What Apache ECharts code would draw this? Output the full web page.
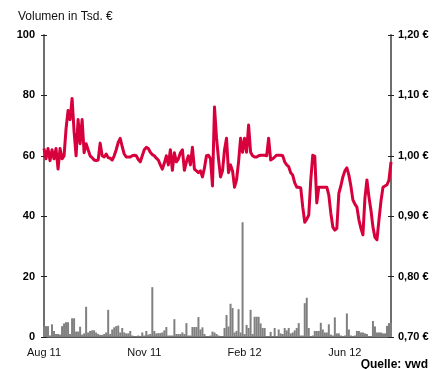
<!DOCTYPE html>
<html>
<head>
<meta charset="utf-8">
<script src="https://cdn.jsdelivr.net/npm/echarts@6/dist/echarts.min.js"></script>
<style>
html,body{margin:0;padding:0;background:#fff;}
#c{width:437px;height:369px;}
</style>
</head>
<body>
<div id="c"></div>
<script>
// Tick labels on the time axis and their positions (trading-day index)
const tickLabels = ['Aug 11', 'Nov 11', 'Feb 12', 'Jun 12'];
const tickIndex = [0, 50, 100, 150];

// Share price in EUR (right axis)
const price = [
1.012,0.995,1.012,0.992,1.010,0.995,1.012,0.978,1.012,0.995,
1.000,1.045,1.075,1.060,1.095,1.040,1.000,1.060,1.020,1.060,
1.005,1.020,1.010,1.000,0.997,0.993,0.992,0.993,1.021,1.000,
0.998,1.003,0.997,0.996,0.993,1.000,1.010,1.022,1.029,1.015,
1.003,0.998,0.998,0.998,1.000,1.001,1.000,0.994,0.990,1.000,
1.010,1.014,1.012,1.006,1.002,1.000,0.996,0.993,0.985,0.978,
0.988,1.000,0.985,1.010,0.976,1.005,0.990,0.995,1.005,1.010,
0.976,0.990,1.000,0.985,1.014,0.978,0.975,0.972,0.975,0.965,
0.980,1.000,1.001,0.995,0.950,1.081,1.030,0.995,0.965,0.975,
1.010,1.029,0.972,0.985,0.975,0.948,0.960,0.990,1.029,1.006,
1.029,1.006,1.051,1.006,1.000,0.998,0.998,1.000,1.001,1.001,
1.001,1.000,1.029,0.993,0.995,0.998,1.001,1.001,1.001,1.000,
0.990,0.985,0.982,0.972,0.968,0.955,0.948,0.948,0.947,0.915,
0.890,0.895,0.902,0.960,1.001,0.999,0.922,0.948,0.948,0.948,
0.948,0.948,0.935,0.905,0.882,0.877,0.880,0.938,0.950,0.965,
0.975,0.980,0.968,0.950,0.927,0.920,0.915,0.894,0.880,0.869,
0.930,0.960,0.932,0.910,0.882,0.865,0.861,0.894,0.925,0.948,
0.950,0.952,0.960,0.990
];

// Trading volume in thousand EUR (left axis)
const volume = [
3.5,3.6,3.6,0.5,4.2,2.0,1.0,1.0,0.8,3.6,
4.5,4.9,4.9,1.0,6.2,6.2,1.8,1.8,3.4,0.8,
1.2,10,1.5,2.0,2.2,2.2,1.5,1.0,0.7,0.7,
1.0,1.5,9.0,1.0,2.5,3.2,3.6,3.8,1.5,3.0,
1.5,1.2,1.2,2.0,0.5,0.3,0.3,0.5,0.3,1.5,
0.5,2.0,0.8,1.0,16.5,2.0,1.2,1.3,1.3,1.5,
2.2,3.3,0.5,0.5,0.5,5.9,1.0,1.0,1.0,1.5,
1.0,4.6,0.5,0.5,3.3,3.3,3.3,6.6,2.5,3.2,
1.0,0.3,0.3,0.5,1.8,1.5,1.0,0.5,0.3,0.3,
3.0,7.3,3.5,11.0,9.6,1.5,2.0,9.2,1.5,38,
1.0,4.0,3.0,9.0,1.0,6.7,6.7,6.7,4.5,3.0,
3.0,0.3,0.3,1.7,0.3,3.0,0.3,2.5,1.2,1.0,
3.0,2.2,3.0,1.2,1.5,2.2,3.0,4.6,0.5,0.5,
11.2,13,3.0,0.3,0.5,2.0,2.0,2.0,4.7,2.5,
1.5,1.5,4.2,0.8,0.5,6.5,1.2,1.2,0.5,0.3,
0.5,7.8,2.5,0.5,0.3,0.5,2.0,2.0,1.5,1.5,
1.2,1.0,0.3,0.3,5.3,3.5,1.5,1.5,1.5,1.2,
1.2,3.7,4.6,4.6
];

const categories = price.map((_, i) => String(i));
const labelFont = 'Arial, "Liberation Sans", sans-serif';

const leftBase = {
  type: 'value', position: 'left', min: 0, max: 100, interval: 20,
  splitLine: { show: false }
};
const rightBase = {
  type: 'value', position: 'right', min: 0.7, max: 1.2, interval: 0.1,
  splitLine: { show: false }
};

const chart = echarts.init(document.getElementById('c'), null, { renderer: 'canvas' });
chart.setOption({
  animation: false,
  backgroundColor: '#ffffff',
  grid: { left: 44, right: 46, top: 35, bottom: 32 },
  title: [
    { text: 'Volumen in Tsd. €', left: 13, top: 6,
      textStyle: { fontSize: 12, fontWeight: 'normal', color: '#111', fontFamily: labelFont } },
    { text: 'Quelle: vwd', right: 4, top: 354,
      textStyle: { fontSize: 12, fontWeight: 'bold', color: '#000', fontFamily: labelFont } }
  ],
  xAxis: {
    type: 'category', data: categories, boundaryGap: false,
    axisLine: { lineStyle: { color: '#555', width: 2 } },
    axisTick: { show: false },
    axisLabel: {
      margin: 10, fontSize: 11, color: '#111', fontFamily: labelFont,
      interval: (idx) => tickIndex.indexOf(idx) >= 0,
      formatter: (v, idx) => { const k = tickIndex.indexOf(idx); return k >= 0 ? tickLabels[k] : ''; }
    },
    splitLine: { show: false }
  },
  yAxis: [
    Object.assign({}, leftBase, {
      axisLine: { show: true, lineStyle: { color: '#6e6e6e', width: 2 } },
      axisTick: { show: true, length: 3, lineStyle: { color: '#222', width: 1 } },
      axisLabel: { margin: 9, fontSize: 11, fontWeight: 'bold', color: '#000', fontFamily: labelFont }
    }),
    Object.assign({}, rightBase, {
      axisLine: { show: true, lineStyle: { color: '#6e6e6e', width: 2 } },
      axisTick: { show: true, length: 3, lineStyle: { color: '#222', width: 1 } },
      axisLabel: { margin: 7, fontSize: 11, fontWeight: 'bold', color: '#000', fontFamily: labelFont,
        formatter: (v) => v.toFixed(2).replace('.', ',') + ' €' }
    }),
    Object.assign({}, leftBase, {
      axisLine: { show: false },
      axisTick: { show: true, inside: true, length: 3, lineStyle: { color: '#222', width: 1 } },
      axisLabel: { show: false }
    }),
    Object.assign({}, rightBase, {
      axisLine: { show: false },
      axisTick: { show: true, inside: true, length: 3, lineStyle: { color: '#222', width: 1 } },
      axisLabel: { show: false }
    })
  ],
  series: [
    {
      type: 'bar', yAxisIndex: 0, data: volume, barWidth: 2,
      itemStyle: { color: '#808080' }, silent: true
    },
    {
      type: 'line', yAxisIndex: 1, data: price, symbol: 'none',
      lineStyle: { color: '#d8003c', width: 3, join: 'round' }, silent: true
    }
  ]
});
</script>
</body>
</html>
